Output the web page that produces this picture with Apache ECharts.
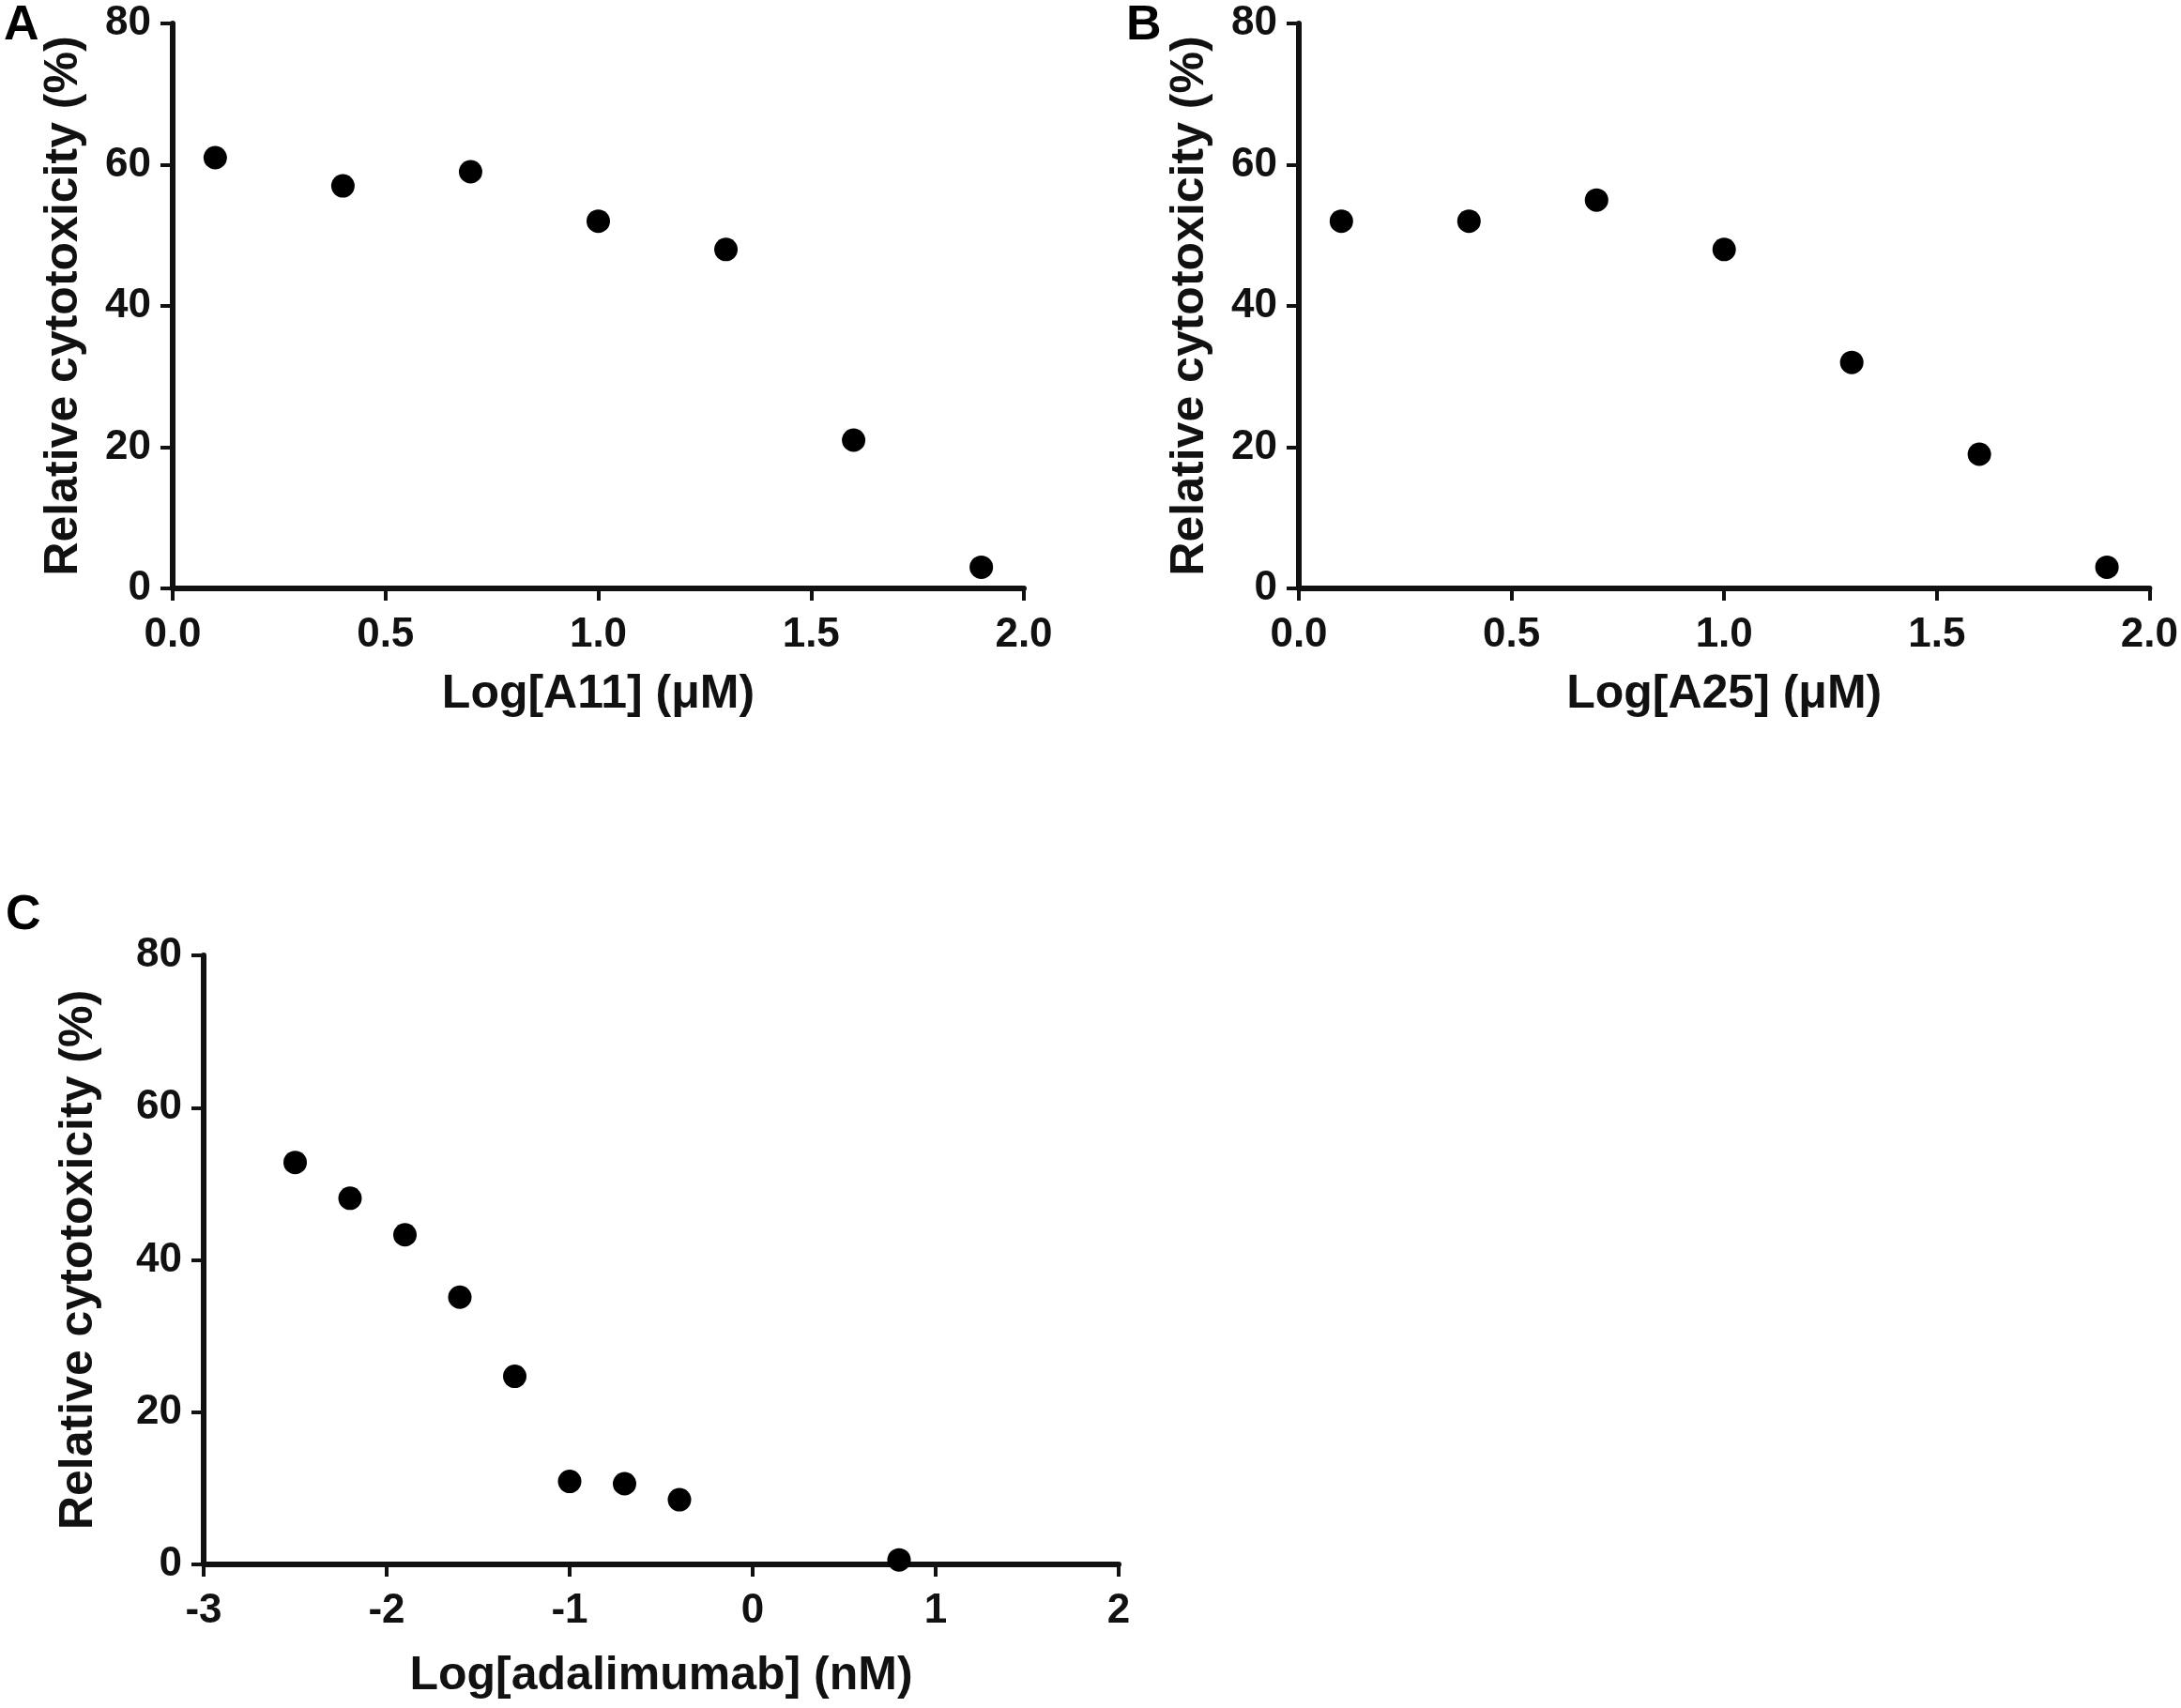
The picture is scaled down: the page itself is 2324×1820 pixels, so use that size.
<!DOCTYPE html>
<html>
<head>
<meta charset="utf-8">
<script src="https://cdn.jsdelivr.net/npm/echarts@6/dist/echarts.min.js"></script>
<style>
html,body{margin:0;padding:0;background:#fff;}
#chart{width:2324px;height:1820px;}
</style>
</head>
<body>
<div id="chart"></div>
<script>
// Panel A
const xA = [0.1, 0.4, 0.7, 1.0, 1.3, 1.6, 1.9];
const yA = [61, 57, 59, 52, 48, 21, 3];
// Panel B
const xB = [0.1, 0.4, 0.7, 1.0, 1.3, 1.6, 1.9];
const yB = [52, 52, 55, 48, 32, 19, 3];
// Panel C
const xC = [-2.5, -2.2, -1.9, -1.6, -1.3, -1.0, -0.7, -0.4, 0.8];
const yC = [52.8, 48.1, 43.3, 35.1, 24.7, 10.9, 10.6, 8.5, 0.6];

const yTitle = 'Relative cytotoxicity (%)';
const xTitleA = 'Log[A11] (\u03bcM)';
const xTitleB = 'Log[A25] (\u03bcM)';
const xTitleC = 'Log[adalimumab] (nM)';
const panelLabels = ['A', 'B', 'C'];

const FONT = '"Liberation Sans", Arial, Helvetica, sans-serif';
const INK = '#111';

function pairs(xs, ys) { return xs.map((x, i) => [x, ys[i]]); }

function xAxisCfg(idx, min, max, interval, name, gap, fmt) {
  return {
    gridIndex: idx, type: 'value', min: min, max: max, interval: interval,
    name: name, nameLocation: 'middle', nameGap: gap,
    nameTextStyle: { fontFamily: FONT, fontWeight: 'bold', fontSize: 50, color: INK },
    axisLine: { show: true, onZero: false, lineStyle: { color: INK, width: 6 } },
    axisTick: { show: true, inside: false, length: 13, lineStyle: { color: INK, width: 4 } },
    axisLabel: { show: true, margin: 28, fontFamily: FONT, fontWeight: 'bold', fontSize: 44, color: INK, formatter: fmt },
    splitLine: { show: false }
  };
}
function yAxisCfg(idx, gap) {
  return {
    gridIndex: idx, type: 'value', min: 0, max: 80, interval: 20,
    name: yTitle, nameLocation: 'middle', nameGap: gap,
    nameTextStyle: { fontFamily: FONT, fontWeight: 'bold', fontSize: 50, color: INK },
    axisLine: { show: true, onZero: false, lineStyle: { color: INK, width: 6 } },
    axisTick: { show: true, inside: false, length: 13, lineStyle: { color: INK, width: 4 } },
    axisLabel: { show: true, margin: 23, fontFamily: FONT, fontWeight: 'bold', fontSize: 44, color: INK },
    splitLine: { show: false }
  };
}
function scatter(idx, data) {
  return {
    type: 'scatter', xAxisIndex: idx, yAxisIndex: idx, data: data,
    symbol: 'circle', symbolSize: 25, itemStyle: { color: '#000', opacity: 1 }, silent: true
  };
}

const chart = echarts.init(document.getElementById('chart'), null, { renderer: 'canvas' });
chart.setOption({
  backgroundColor: '#fff',
  animation: false,
  grid: [
    { left: 184, top: 25, width: 907, height: 602 },
    { left: 1384, top: 25, width: 908, height: 602 },
    { left: 217, top: 1018, width: 975, height: 649 }
  ],
  xAxis: [
    xAxisCfg(0, 0, 2, 0.5, xTitleA, 88, v => v.toFixed(1)),
    xAxisCfg(1, 0, 2, 0.5, xTitleB, 88, v => v.toFixed(1)),
    xAxisCfg(2, -3, 2, 1, xTitleC, 94, v => String(v))
  ],
  yAxis: [yAxisCfg(0, 91), yAxisCfg(1, 91), yAxisCfg(2, 108)],
  series: [scatter(0, pairs(xA, yA)), scatter(1, pairs(xB, yB)), scatter(2, pairs(xC, yC))],
  graphic: [
    { type: 'text', left: 4, top: 2, style: { text: panelLabels[0], font: 'bold 52px ' + FONT, fill: '#000' } },
    { type: 'text', left: 1200, top: 2, style: { text: panelLabels[1], font: 'bold 52px ' + FONT, fill: '#000' } },
    { type: 'text', left: 6, top: 950, style: { text: panelLabels[2], font: 'bold 52px ' + FONT, fill: '#000' } }
  ]
});
</script>
</body>
</html>
